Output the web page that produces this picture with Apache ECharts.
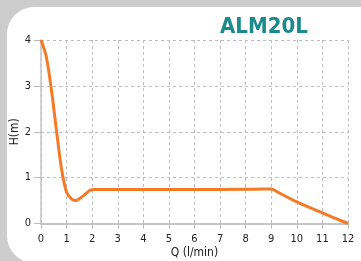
<!DOCTYPE html>
<html>
<head>
<meta charset="utf-8">
<script src="https://cdn.jsdelivr.net/npm/echarts@6/dist/echarts.min.js"></script>
<style>
  html, body { margin: 0; padding: 0; background: #cdcdcd; }
  #chart { width: 361px; height: 261px; }
</style>
</head>
<body>
<div id="chart"></div>
<script>
(function () {
    'use strict';

    // pump curve: flow Q (l/min) vs head H (m)
    const flow = [0, 0.2, 0.4, 0.6, 0.8, 1.0, 1.2, 1.35, 1.6, 1.9, 2.1, 4, 6, 8, 8.7, 9, 9.3, 10, 11, 12];
    const head = [4, 3.65, 2.95, 2.05, 1.2, 0.68, 0.53, 0.5, 0.58, 0.72, 0.74, 0.74, 0.74, 0.745, 0.75, 0.75, 0.67, 0.47, 0.23, 0];
    const xTicks = [0, 1, 2, 3, 4, 5, 6, 7, 8, 9, 10, 11, 12];
    const yTicks = [0, 1, 2, 3, 4];

    const title = 'ALM20L';
    const teal = '#1a8a8c';
    const orange = '#f47a25';
    const font = 'DejaVu Sans Condensed';

    const points = flow.map((q, i) => [q, head[i]]);

    const chart = echarts.init(document.getElementById('chart'));

    const gridLine = { show: true, lineStyle: { color: '#bdbdbd', type: [3, 3], width: 1 } };

    chart.setOption({
        animation: false,
        backgroundColor: '#cdcdcd',
        graphic: [
            {
                type: 'rect',
                z: -10,
                shape: { x: 7, y: 7, width: 420, height: 256, r: 27 },
                style: { fill: '#ffffff' }
            },
            {
                type: 'text',
                left: 220,
                top: 16,
                style: {
                    text: title,
                    fill: teal,
                    font: 'bold 22px "' + font + '"'
                }
            }
        ],
        grid: { left: 41, right: 13, top: 40, bottom: 37.5, outerBoundsMode: 'none' },
        xAxis: {
            type: 'value',
            min: xTicks[0],
            max: xTicks[xTicks.length - 1],
            interval: 1,
            name: 'Q (l/min)',
            nameLocation: 'middle',
            nameGap: 23,
            nameMoveOverlap: false,
            nameTextStyle: { color: '#222', fontSize: 12, fontFamily: font },
            axisLine: { lineStyle: { color: '#c4c4c4', width: 2 } },
            axisTick: { show: true, length: 5, lineStyle: { color: '#bbb' } },
            axisLabel: { color: '#222', fontSize: 11, fontFamily: font, margin: 10 },
            splitLine: gridLine
        },
        yAxis: {
            type: 'value',
            min: yTicks[0],
            max: yTicks[yTicks.length - 1],
            interval: 1,
            name: 'H(m)',
            nameLocation: 'middle',
            nameGap: 20,
            nameMoveOverlap: false,
            nameTextStyle: { color: '#222', fontSize: 12, fontFamily: font },
            axisLine: { show: true, lineStyle: { color: '#c4c4c4', width: 1.5 } },
            axisTick: { show: true, length: 7, lineStyle: { color: '#bbb' } },
            axisLabel: { color: '#222', fontSize: 11, fontFamily: font, margin: 10 },
            splitLine: gridLine
        },
        series: [{
            type: 'line',
            data: points,
            smooth: 0.3,
            showSymbol: false,
            lineStyle: { color: orange, width: 3 }
        }]
    });
}());
</script>
</body>
</html>
